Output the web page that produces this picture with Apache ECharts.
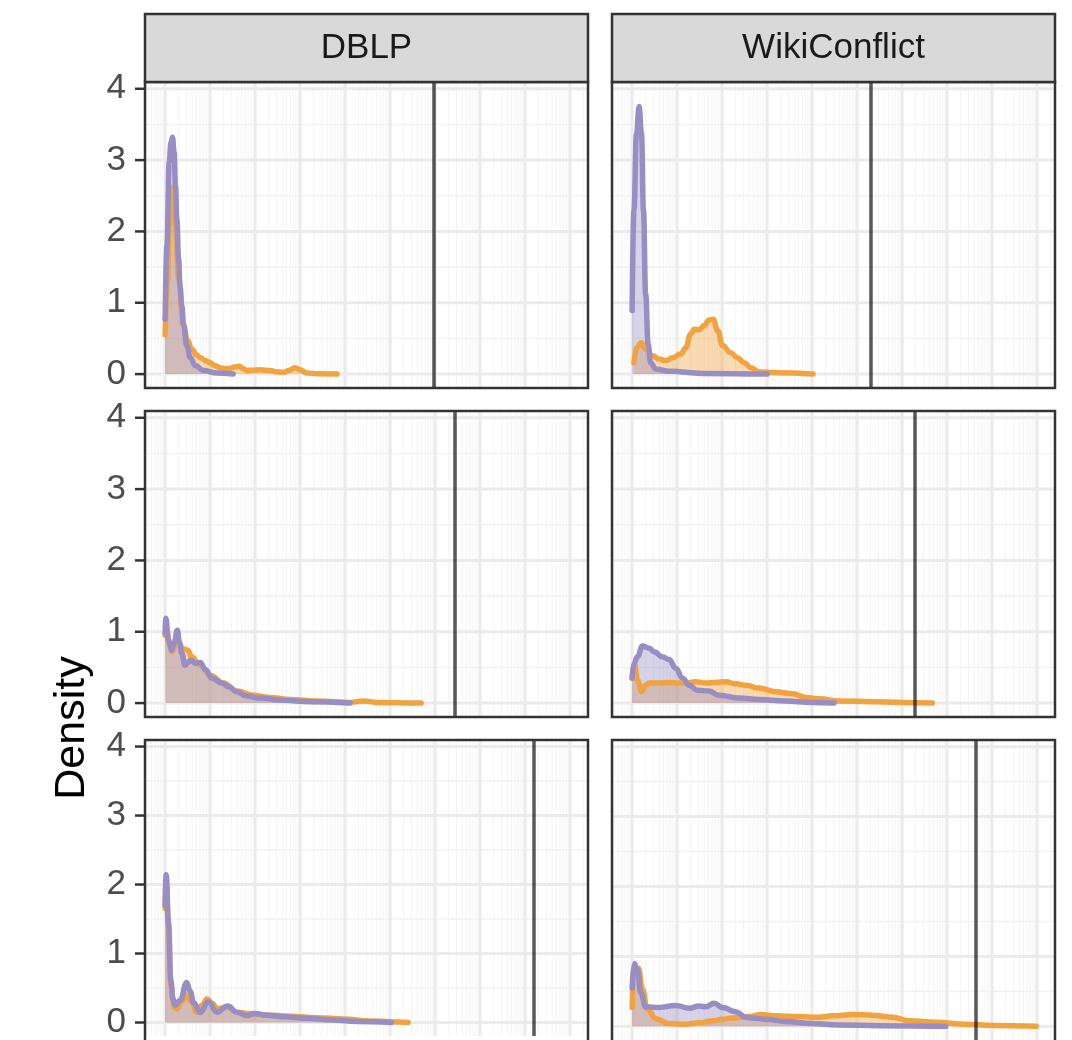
<!DOCTYPE html>
<html>
<head>
<meta charset="utf-8">
<script src="https://cdn.jsdelivr.net/npm/echarts@6/dist/echarts.min.js"></script>
<style>
  html, body { margin: 0; padding: 0; background: #fff; }
  #chart { width: 1072px; height: 1040px; }
</style>
</head>
<body>
<div id="chart"></div>
<script>
// DATA
const datasets = ['DBLP', 'WikiConflict']
const yTicks = [0, 1, 2, 3, 4]
const yMinorTicks = [0.5, 1.5, 2.5, 3.5]
const xDecades = [-1, 0, 1, 2, 3, 4, 5, 6, 7, 8, 9]
const xMinorSteps = [2, 3, 4, 5, 6, 7, 8, 9]

// density curves, x is log10 of the value
const dblpRow1Orange = [[0,0.55],[0.05,1.3],[0.1,2.2],[0.16,2.62],[0.22,2.1],[0.3,1.35],[0.4,0.7],[0.5,0.47],[0.59,0.35],[0.7,0.27],[0.78,0.23],[0.9,0.19],[1.0,0.16],[1.1,0.12],[1.22,0.09],[1.35,0.075],[1.44,0.08],[1.55,0.1],[1.65,0.11],[1.73,0.08],[1.81,0.05],[1.95,0.055],[2.11,0.06],[2.33,0.05],[2.5,0.03],[2.63,0.025],[2.75,0.05],[2.89,0.09],[3.0,0.06],[3.15,0.015],[3.4,0.005],[3.82,0]]
const dblpRow1Purple = [[0,0.77],[0.04,1.8],[0.09,2.97],[0.13,3.25],[0.163,3.32],[0.2,3.11],[0.23,2.64],[0.26,2.18],[0.3,1.61],[0.33,1.24],[0.37,0.96],[0.41,0.68],[0.48,0.4],[0.56,0.23],[0.67,0.12],[0.85,0.05],[1.15,0.015],[1.51,0]]
const wikiRow1Orange = [[0.04,0.16],[0.11,0.38],[0.2,0.44],[0.3,0.35],[0.45,0.26],[0.6,0.21],[0.75,0.19],[0.9,0.23],[1.08,0.28],[1.19,0.37],[1.3,0.56],[1.38,0.63],[1.49,0.62],[1.6,0.68],[1.71,0.76],[1.8,0.77],[1.9,0.61],[2.01,0.40],[2.19,0.30],[2.34,0.23],[2.49,0.16],[2.64,0.09],[2.82,0.03],[3.19,0.02],[4.02,0]]
const wikiRow1Purple = [[0,0.89],[0.04,2.29],[0.096,3.37],[0.156,3.75],[0.207,3.37],[0.252,2.29],[0.3,1.12],[0.356,0.42],[0.41,0.16],[0.53,0.07],[0.82,0.04],[1.56,0.01],[3.0,0]]
const dblpRow2Orange = [[0,0.95],[0.03,1.05],[0.1,0.82],[0.15,0.72],[0.22,0.8],[0.28,0.88],[0.36,0.78],[0.42,0.76],[0.5,0.74],[0.59,0.65],[0.78,0.53],[1.0,0.39],[1.3,0.28],[1.59,0.17],[1.96,0.11],[2.33,0.08],[2.78,0.05],[3.37,0.03],[4.11,0.01],[4.41,0.03],[4.7,0.01],[5.69,0]]
const dblpRow2Purple = [[0,0.98],[0.015,1.19],[0.074,0.88],[0.148,0.74],[0.2,0.85],[0.27,1.02],[0.32,0.85],[0.37,0.70],[0.44,0.53],[0.5,0.57],[0.56,0.60],[0.67,0.56],[0.78,0.57],[0.89,0.47],[1.04,0.35],[1.26,0.28],[1.41,0.23],[1.59,0.16],[1.81,0.10],[2.11,0.07],[2.63,0.04],[3.22,0.02],[4.11,0]]
const wikiRow2Orange = [[0,0.35],[0.05,0.55],[0.12,0.32],[0.21,0.16],[0.3,0.25],[0.38,0.28],[0.6,0.28],[0.82,0.29],[1.04,0.28],[1.19,0.28],[1.41,0.30],[1.64,0.28],[1.86,0.29],[2.08,0.30],[2.3,0.27],[2.53,0.25],[2.82,0.21],[3.19,0.16],[3.56,0.13],[3.86,0.08],[4.16,0.06],[4.6,0.03],[5.34,0.02],[6.0,0.01],[6.67,0]]
const wikiRow2Purple = [[0,0.35],[0.04,0.56],[0.12,0.65],[0.23,0.80],[0.38,0.77],[0.49,0.72],[0.67,0.65],[0.82,0.61],[0.97,0.49],[1.12,0.35],[1.27,0.25],[1.45,0.18],[1.71,0.17],[1.93,0.11],[2.38,0.07],[2.82,0.05],[3.41,0.03],[4.0,0.01],[4.49,0]]
const dblpRow3Orange = [[0,1.65],[0.022,2.05],[0.074,1.4],[0.126,0.55],[0.2,0.22],[0.26,0.2],[0.36,0.3],[0.48,0.40],[0.58,0.3],[0.70,0.15],[0.82,0.25],[0.93,0.34],[1.05,0.28],[1.15,0.20],[1.39,0.22],[1.59,0.15],[1.89,0.13],[2.26,0.11],[2.78,0.09],[3.37,0.07],[3.96,0.05],[4.56,0.023],[5.0,0.01],[5.4,0]]
const dblpRow3Purple = [[0,1.7],[0.022,2.14],[0.074,1.46],[0.126,0.62],[0.17,0.35],[0.22,0.25],[0.33,0.32],[0.48,0.58],[0.56,0.45],[0.63,0.29],[0.78,0.145],[0.96,0.30],[1.15,0.15],[1.39,0.24],[1.59,0.15],[1.81,0.10],[2.0,0.13],[2.19,0.11],[2.63,0.084],[3.15,0.06],[3.74,0.037],[4.26,0.014],[5.02,0]]
const wikiRow3Orange = [[0,0.27],[0.04,0.81],[0.14,0.83],[0.23,0.53],[0.34,0.25],[0.53,0.11],[0.82,0.04],[1.19,0.03],[1.49,0.05],[1.79,0.08],[2.01,0.10],[2.23,0.12],[2.6,0.14],[2.86,0.17],[3.19,0.15],[3.71,0.14],[4.16,0.13],[4.45,0.15],[4.9,0.17],[5.34,0.16],[5.79,0.13],[6.16,0.08],[6.75,0.06],[7.41,0.03],[8.0,0.014],[8.98,0]]
const wikiRow3Purple = [[0,0.55],[0.044,0.90],[0.12,0.81],[0.19,0.48],[0.3,0.28],[0.6,0.27],[0.97,0.30],[1.27,0.26],[1.49,0.29],[1.64,0.28],[1.82,0.33],[2.01,0.27],[2.3,0.21],[2.53,0.13],[2.67,0.12],[2.97,0.10],[3.41,0.07],[4.0,0.04],[4.6,0.02],[5.49,0.01],[6.97,0]]

// threshold lines per panel [DBLP, WikiConflict]
const vlineRow1 = [5.975, 5.30]
const vlineRow2 = [6.44, 6.29]
const vlineRow3 = [8.20, 7.63]

const panels = [
  [dblpRow1Orange, dblpRow1Purple, vlineRow1[0]], [wikiRow1Orange, wikiRow1Purple, vlineRow1[1]],
  [dblpRow2Orange, dblpRow2Purple, vlineRow2[0]], [wikiRow2Orange, wikiRow2Purple, vlineRow2[1]],
  [dblpRow3Orange, dblpRow3Purple, vlineRow3[0]], [wikiRow3Orange, wikiRow3Purple, vlineRow3[1]]
]

// LAYOUT
const FONT = '"Liberation Sans", Arial, sans-serif'
const ORANGE = '#F1A340'
const PURPLE = '#998EC3'
const xMin = -0.4475, xMax = 9.3975
const yMin = -0.195, yMax = 4.095
const colLeft = [145, 612]
const rowTop = [82, 411, 740]
const panelW = 443, panelH = 306
const stripTop = 14
const tickLen = 10

const xMinorTicks = []
xDecades.forEach(d => xMinorSteps.forEach(k => {
  const v = d + Math.log10(k)
  if (v > xMin && v < xMax) xMinorTicks.push(v)
}))
const xMajorTicks = xDecades.filter(d => d >= xMin && d <= xMax)

const grids = [], xAxes = [], yAxes = [], series = [], graphics = []

const gridLines = (gi, values, dir, color, width) => ({
  type: 'custom', xAxisIndex: gi, yAxisIndex: gi, z: 1, silent: true, clip: true,
  data: values.map(v => [v, 0]),
  renderItem: (params, api) => {
    const v = api.value(0)
    const a = dir === 'x' ? api.coord([v, yMin]) : api.coord([xMin, v])
    const b = dir === 'x' ? api.coord([v, yMax]) : api.coord([xMax, v])
    return {
      type: 'line',
      shape: { x1: a[0], y1: a[1], x2: b[0], y2: b[1] },
      style: { stroke: color, lineWidth: width }
    }
  }
})

// y axis tick marks outside the left panel edge
const yTickMarks = gi => ({
  type: 'custom', xAxisIndex: gi, yAxisIndex: gi, z: 5, silent: true, clip: false,
  data: yTicks.map(v => [xMin, v]),
  renderItem: (params, api) => {
    const a = api.coord([api.value(0), api.value(1)])
    return {
      type: 'line',
      shape: { x1: a[0] - tickLen, y1: a[1], x2: a[0], y2: a[1] },
      style: { stroke: '#333333', lineWidth: 2.5 }
    }
  }
})

const density = (gi, data, color) => ({
  type: 'line', xAxisIndex: gi, yAxisIndex: gi, data, z: 2,
  smooth: 0.45, smoothMonotone: 'x', symbol: 'none', silent: true,
  lineStyle: { color, width: 5.5, cap: 'round', join: 'round' },
  areaStyle: { color, opacity: 0.4 }
})

panels.forEach(([orange, purple, vline], gi) => {
  const row = Math.floor(gi / 2), col = gi % 2
  grids.push({ left: colLeft[col], top: rowTop[row], width: panelW, height: panelH, containLabel: false })
  xAxes.push({
    gridIndex: gi, type: 'value', min: xMin, max: xMax,
    axisLine: { show: false }, axisTick: { show: false }, axisLabel: { show: false }, splitLine: { show: false }
  })
  yAxes.push({
    gridIndex: gi, type: 'value', min: yMin, max: yMax,
    axisLine: { show: false }, splitLine: { show: false }, axisTick: { show: false },
    axisLabel: { show: col === 0, customValues: yTicks, fontSize: 35, color: '#4D4D4D',
      margin: tickLen + 9, fontFamily: FONT, padding: [5, 0, 0, 0] }
  })
  series.push(gridLines(gi, yMinorTicks, 'y', '#F2F2F2', 1.6))
  series.push(gridLines(gi, xMinorTicks, 'x', '#F4F4F4', 1))
  series.push(gridLines(gi, yTicks, 'y', '#EBEBEB', 3))
  series.push(gridLines(gi, xMajorTicks, 'x', '#EBEBEB', 3))
  series.push(density(gi, orange, ORANGE))
  const p = density(gi, purple, PURPLE)
  p.markLine = {
    silent: true, symbol: 'none', label: { show: false },
    lineStyle: { color: 'rgba(0,0,0,0.65)', width: 3.5, type: 'solid' },
    data: [{ xAxis: vline }]
  }
  series.push(p)
  if (col === 0) series.push(yTickMarks(gi))
  // panel frame
  graphics.push({
    type: 'rect', z: 100, silent: true,
    shape: { x: colLeft[col], y: rowTop[row], width: panelW, height: panelH },
    style: { fill: 'none', stroke: '#333333', lineWidth: 2.5 }
  })
})

// facet strips
datasets.forEach((name, col) => {
  graphics.push({
    type: 'rect', z: 100, silent: true,
    shape: { x: colLeft[col], y: stripTop, width: panelW, height: rowTop[0] - stripTop },
    style: { fill: '#D9D9D9', stroke: '#333333', lineWidth: 2.5 }
  })
  graphics.push({
    type: 'text', z: 101, silent: true,
    x: colLeft[col] + panelW / 2, y: (stripTop + rowTop[0]) / 2,
    style: { text: name, fill: '#1A1A1A', fontSize: 35, fontFamily: FONT,
      align: 'center', verticalAlign: 'middle', textAlign: 'center', textVerticalAlign: 'middle' }
  })
})

graphics.push({
  type: 'text', z: 101, silent: true, x: 72, y: 728, rotation: Math.PI / 2,
  style: { text: 'Density', fill: '#000000', fontSize: 43, fontFamily: FONT,
    align: 'center', verticalAlign: 'middle', textAlign: 'center', textVerticalAlign: 'middle' }
})

const chart = echarts.init(document.getElementById('chart'), null, { renderer: 'canvas' })
chart.setOption({
  backgroundColor: '#ffffff',
  animation: false,
  grid: grids,
  xAxis: xAxes,
  yAxis: yAxes,
  series,
  graphic: { elements: graphics }
})
</script>
</body>
</html>
